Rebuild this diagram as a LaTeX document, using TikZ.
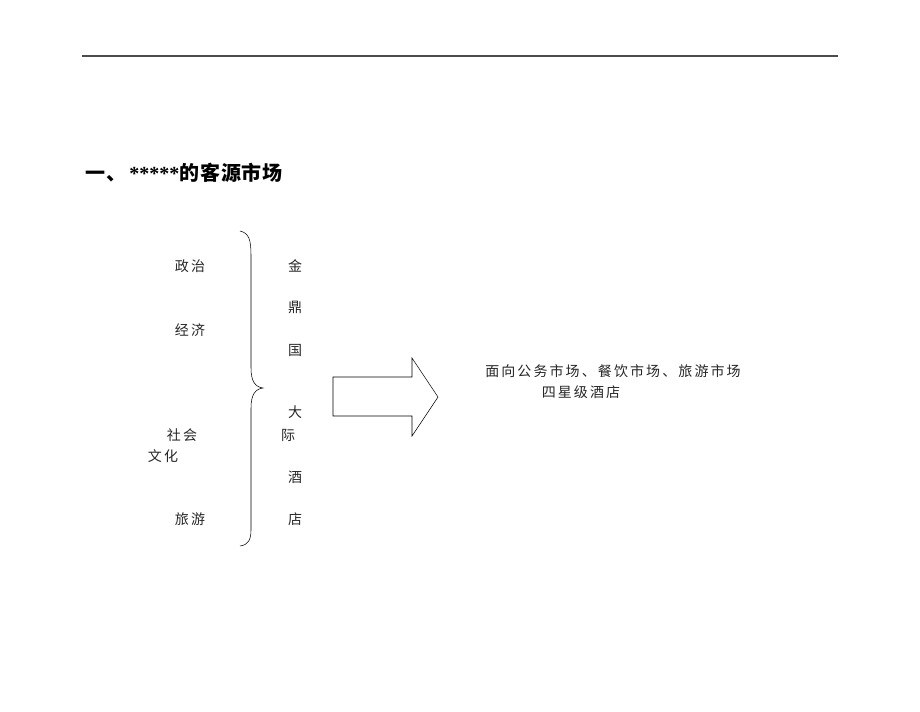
\documentclass[tikz,border=0pt]{standalone}
\usepackage{fontspec}
\setmainfont{Liberation Serif}
\newfontfamily\cjk[LetterSpace=15]{Noto Sans CJK SC}
\newfontfamily\cjkbold[LetterSpace=4]{Noto Sans CJK SC}
\tikzset{
    word/.style = {inner sep = 0pt, text = black!85, font = \cjk\fontsize{10.5pt}{12pt}\selectfont},
    heading/.style = {inner sep = 0pt, anchor = west, font = \fontsize{15pt}{18pt}\selectfont\bfseries}
}
\begin{document}
\begin{tikzpicture}[x = 0.75pt, y = -0.75pt]
        \useasboundingbox (0,0) rectangle (920,711);
        % rule at the top of the page
        \draw[line width = 1.1pt, black!70] (82,56) -- (838,56);
        \node[heading] (title) at (85,173) {{\cjkbold 一、}\,*****{\cjkbold 的客源市场}};
        \begin{scope}[every node/.append style = {word}]
            \node (zz) at (190,266) {政治};
            \node (jj) at (190,330) {经济};
            \node (sh) at (182,435) {社会};
            \node (wh) at (163,456) {文化};
            \node (ly) at (190,519) {旅游};
            \foreach \c/\x/\y [count = \i] in {金/295/266, 鼎/295/307, 国/295/350, 大/295/412, 际/288/435, 酒/295/477, 店/295/519} {
                \node (hotel\i) at (\x,\y) {\c};
            }
            \node (market) at (613,371) {面向公务市场、餐饮市场、旅游市场};
            \node (star) at (581,392) {四星级酒店};
        \end{scope}
        % brace
        \draw[thin] (240,231) .. controls (249,233) and (251,240) .. (251,255) -- (251,368)
            .. controls (251,381) and (255,387) .. (263,388)
            .. controls (255,389) and (251,395) .. (251,408) -- (251,530)
            .. controls (251,540) and (248,545) .. (240,546);
        % block arrow
        \draw[thin] (333,377) -- (412,377) -- (412,358) -- (438,397) -- (412,436) -- (412,416) -- (333,416) -- cycle;
    \end{tikzpicture}
\end{document}
